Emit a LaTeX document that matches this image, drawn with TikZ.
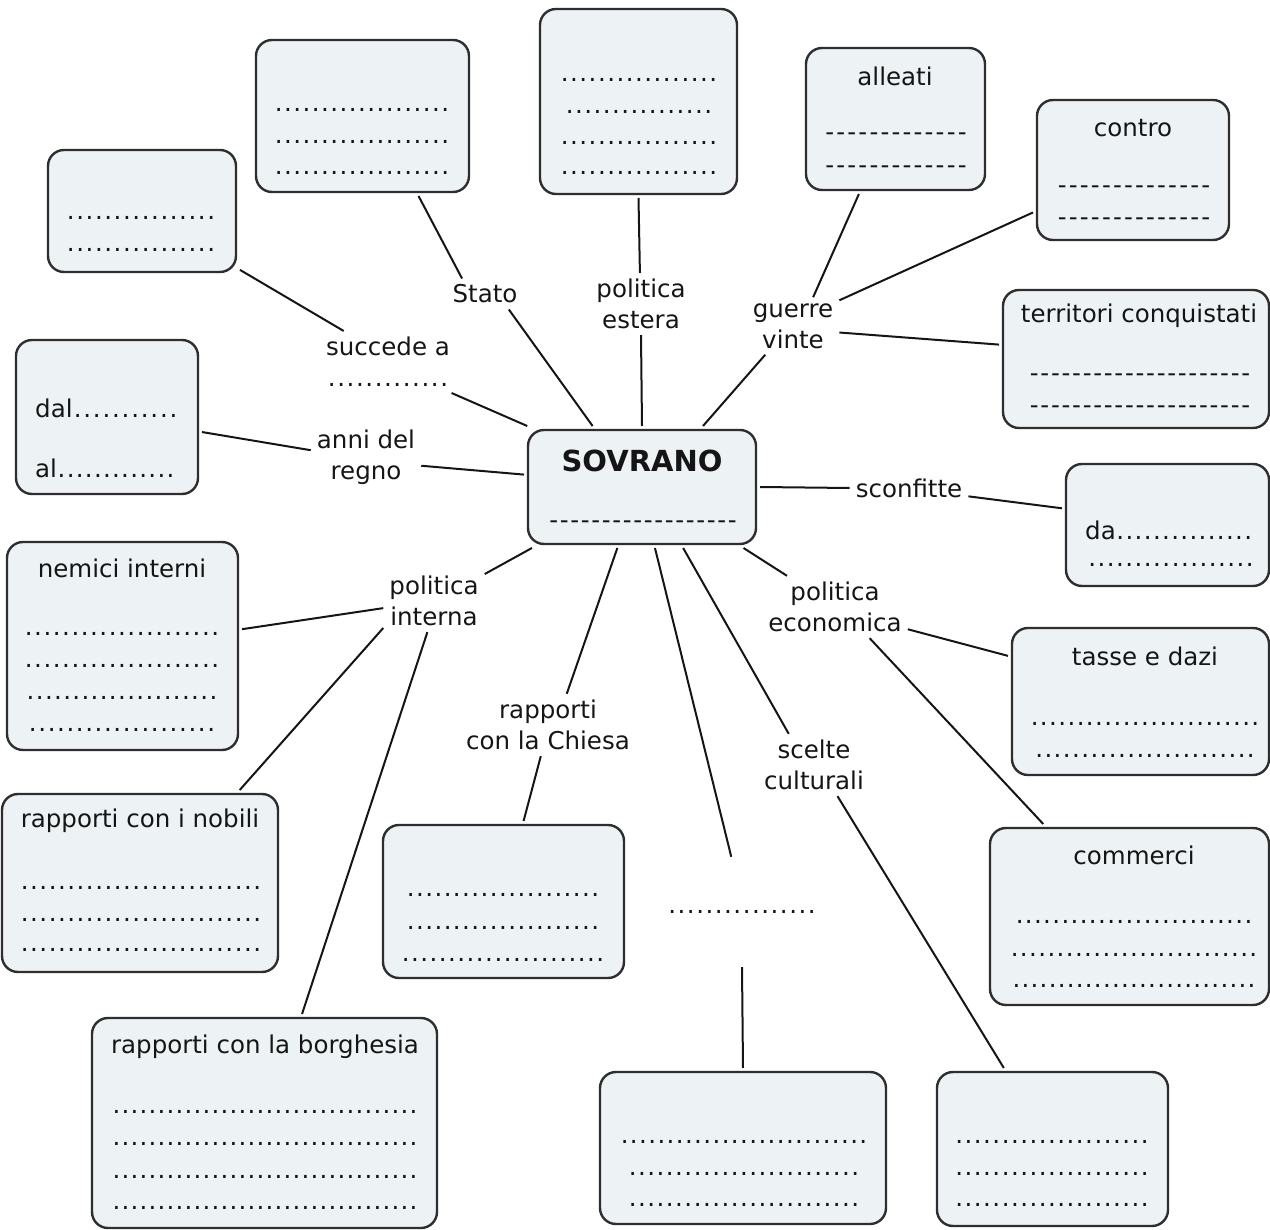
\documentclass[tikz,border=0pt]{standalone}
\usepackage{fontspec}
\setmainfont{DejaVu Sans}
\definecolor{boxfill}{HTML}{EDF2F5}
\definecolor{boxline}{HTML}{2E2E2E}
\definecolor{ink}{HTML}{151515}
% rows of dots and dashes to fill in
\newcommand{\dotrow}[1]{\hbox to #1{\xleaders\hbox to 9pt{\hss.\hss}\hfill}}
\newcommand{\dashrow}[1]{\hbox to #1{\xleaders\hbox to 10.5pt{\hss-\hss}\hfill}}
\tikzset{
	card/.style={
		rectangle,
		rounded corners=16pt,
		draw=boxline,
		line width=2.4pt,
		fill=boxfill,
		inner sep=0pt,
		outer sep=4pt
	},
	tag/.style={align=center, inner sep=6pt, text=ink},
	fill in/.style={inner sep=0pt, text=ink},
	link/.style={draw=ink, line width=2pt}
}

\begin{document}
\begin{tikzpicture}[x=1pt, y=-1pt, font=\fontsize{24.5}{31}\selectfont]
\useasboundingbox (0,0) rectangle (1270,1230);

% boxes
\node [card, minimum width=213pt, minimum height=152pt] (stateBox) at (362.5,116) {};
\node [card, minimum width=188pt, minimum height=122pt] (succBox) at (142,211) {};
\node [card, minimum width=197pt, minimum height=185pt] (foreignBox) at (638.5,101.5) {};
\node [card, minimum width=179pt, minimum height=142pt] (alliesBox) at (895.5,119) {};
\node [card, minimum width=192pt, minimum height=140pt] (enemiesBox) at (1133,170) {};
\node [card, minimum width=266pt, minimum height=138pt] (landsBox) at (1136,359) {};
\node [card, minimum width=182pt, minimum height=154pt] (yearsBox) at (107,417) {};
\node [card, minimum width=228pt, minimum height=114pt] (sovrano) at (642,487) {};
\node [card, minimum width=203pt, minimum height=122pt] (defeatBox) at (1167.5,525) {};
\node [card, minimum width=231pt, minimum height=208pt] (innerFoesBox) at (122.5,646) {};
\node [card, minimum width=257pt, minimum height=147pt] (taxBox) at (1140.5,701.5) {};
\node [card, minimum width=276pt, minimum height=178pt] (noblesBox) at (140,883) {};
\node [card, minimum width=241pt, minimum height=153pt] (churchBox) at (503.5,901.5) {};
\node [card, minimum width=279pt, minimum height=177pt] (tradeBox) at (1129.5,916.5) {};
\node [card, minimum width=345pt, minimum height=210pt] (bourgeoisBox) at (264.5,1123) {};
\node [card, minimum width=286pt, minimum height=152pt] (blankBox) at (743,1148) {};
\node [card, minimum width=231pt, minimum height=154pt] (cultureBox) at (1052.5,1149) {};

% box contents
\foreach \y [count=\i] in {110,142,173}
	\node [fill in] (stateBox-\i) at (362,\y) {\dotrow{176pt}};
\foreach \y [count=\i] in {218,250}
	\node [fill in] (succBox-\i) at (141,\y) {\dotrow{150pt}};
\foreach \y/\w [count=\i] in {80/158,112/148,143/158,173/158}
	\node [fill in] (foreignBox-\i) at (639,\y) {\dotrow{\w pt}};
\node [fill in] (alliesBox-0) at (895,76) {alleati};
\foreach \y [count=\i] in {137,170}
	\node [fill in] (alliesBox-\i) at (896,\y) {\dashrow{144pt}};
\node [fill in] (enemiesBox-0) at (1133,128) {contro};
\foreach \y [count=\i] in {190,222}
	\node [fill in] (enemiesBox-\i) at (1134,\y) {\dashrow{155pt}};
\node [fill in] (landsBox-0) at (1139,316) {territori conquistati};
\foreach \y [count=\i] in {378,410}
	\node [fill in] (landsBox-\i) at (1140,\y) {\dashrow{222pt}};
\node [fill in, anchor=west] (yearsBox-1) at (35,408) {dal\dotrow{106pt}};
\node [fill in, anchor=west] (yearsBox-2) at (35,468) {al\dotrow{118pt}};
\node [fill in, font=\fontsize{29}{34}\selectfont\bfseries] (sovrano-0) at (642,461) {SOVRANO};
\node [fill in] (sovrano-1) at (643,525) {\dashrow{189pt}};
\node [fill in, anchor=west] (defeatBox-1) at (1085,530) {da\dotrow{137pt}};
\node [fill in] (defeatBox-2) at (1171,565) {\dotrow{167pt}};
\node [fill in] (innerFoesBox-0) at (122,568) {nemici interni};
\foreach \y/\w [count=\i] in {634/196,666/196,698/192,730/188}
	\node [fill in] (innerFoesBox-\i) at (122,\y) {\dotrow{\w pt}};
\node [fill in] (taxBox-0) at (1145,656) {tasse e dazi};
\foreach \y/\w [count=\i] in {724/230,756/221}
	\node [fill in] (taxBox-\i) at (1145,\y) {\dotrow{\w pt}};
\node [fill in] (noblesBox-0) at (140,821) {rapporti con i nobili};
\foreach \y [count=\i] in {888,920,950}
	\node [fill in] (noblesBox-\i) at (141,\y) {\dotrow{242pt}};
\foreach \y/\w [count=\i] in {895/194,928/194,960/204}
	\node [fill in] (churchBox-\i) at (503,\y) {\dotrow{\w pt}};
\node [fill in] (tradeBox-0) at (1134,855) {commerci};
\foreach \y/\w [count=\i] in {922/238,955/248,986/244}
	\node [fill in] (tradeBox-\i) at (1134,\y) {\dotrow{\w pt}};
\node [fill in] (bourgeoisBox-0) at (265,1047) {rapporti con la borghesia};
\foreach \y [count=\i] in {1112,1144,1177,1208}
	\node [fill in] (bourgeoisBox-\i) at (265,\y) {\dotrow{306pt}};
\foreach \y/\w [count=\i] in {1142/248,1174/232,1205/232}
	\node [fill in] (blankBox-\i) at (744,\y) {\dotrow{\w pt}};
\foreach \y [count=\i] in {1142,1174,1205}
	\node [fill in] (cultureBox-\i) at (1052,\y) {\dotrow{195pt}};

% link labels
\node [tag] (stato) at (485,294) {Stato};
\node [tag] (estera) at (641,304) {politica\\estera};
\node [tag] (guerre) at (793,326) {guerre\\vinte};
\node [tag] (succede) at (388,362) {succede a\\\dotrow{122pt}};
\node [tag] (anni) at (366,457) {anni del\\regno};
\node [tag] (sconfitte) at (909,488) {sconfitte};
\node [tag] (interna) at (434,601) {politica\\interna};
\node [tag] (economica) at (835,607) {politica\\economica};
\node [tag] (chiesa) at (548,725) {rapporti\\con la Chiesa};
\node [tag] (scelte) at (814,765) {scelte\\culturali};
\node [tag, minimum height=110pt] (blank) at (742,912) {\dotrow{149pt}};

% links
\draw [link] (stateBox.-55) -- (stato.146);
\draw [link] (stato.-33) -- (sovrano.129);
\draw [link] (succBox.-31) -- (succede.145);
\draw [link] (succede.-26) -- (sovrano.152);
\draw [link] (foreignBox.-90) -- (estera.92);
\draw [link] (estera.-90) -- (sovrano.90);
\draw [link] (alliesBox.-116) -- (guerre.55);
\draw [link] (enemiesBox.-157) -- (guerre.29);
\draw [link] (landsBox.174.5) -- (guerre.-8);
\draw [link] (guerre.-134) -- (sovrano.45);
\draw [link] (yearsBox.-9) -- (anni.173);
\draw [link] (anni.-9) -- (sovrano.174);
\draw [link] (sovrano.0) -- (sconfitte.180);
\draw [link] (sconfitte.-8) -- (defeatBox.171);
\draw [link] (sovrano.-151) -- (interna.28);
\draw [link] (interna.-172) -- (innerFoesBox.8);
\draw [link] (interna.-152) -- (noblesBox.43);
\draw [link] (interna.-102) -- (bourgeoisBox.71);
\draw [link] (sovrano.-112) -- (chiesa.59);
\draw [link] (chiesa.-103) -- (churchBox.76);
\draw [link] (sovrano.-78) -- (blank.101);
\draw [link] (blank.-90) -- (blankBox.90);
\draw [link] (sovrano.-56) -- (scelte.129);
\draw [link] (scelte.-53) -- (cultureBox.121);
\draw [link] (sovrano.-31) -- (economica.147);
\draw [link] (economica.-17) -- (taxBox.161.5);
\draw [link] (economica.-42) -- (tradeBox.133);
\end{tikzpicture}
\end{document}
